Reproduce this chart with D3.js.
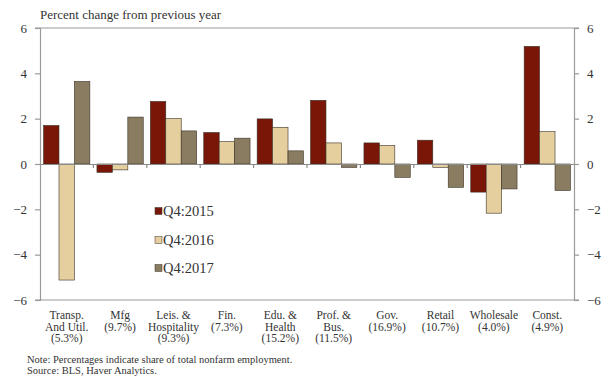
<!DOCTYPE html>
<html>
<head>
<meta charset="utf-8">
<script src="https://cdn.jsdelivr.net/npm/d3@7/dist/d3.min.js"></script>
<style>
  html, body { margin: 0; padding: 0; background: #fff; }
  svg { display: block; font-family: "Liberation Serif", "DejaVu Serif", serif; }
</style>
</head>
<body>
<svg id="chart" width="608" height="391"></svg>
<script>
// Sector labels (each line of a label is a separate entry)
const categories = [
  ["Transp.", "And Util.", "(5.3%)"],
  ["Mfg", "(9.7%)"],
  ["Leis. &", "Hospitality", "(9.3%)"],
  ["Fin.", "(7.3%)"],
  ["Edu. &", "Health", "(15.2%)"],
  ["Prof. &", "Bus.", "(11.5%)"],
  ["Gov.", "(16.9%)"],
  ["Retail", "(10.7%)"],
  ["Wholesale", "(4.0%)"],
  ["Const.", "(4.9%)"]
];
const seriesNames = ["Q4:2015", "Q4:2016", "Q4:2017"];
const q4_2015 = [1.7, -0.37, 2.76, 1.39, 1.99, 2.81, 0.93, 1.05, -1.24, 5.19];
const q4_2016 = [-5.12, -0.26, 2.0, 0.99, 1.62, 0.93, 0.82, -0.15, -2.17, 1.43];
const q4_2017 = [3.64, 2.07, 1.46, 1.14, 0.58, -0.15, -0.59, -1.03, -1.1, -1.17];
const yTicks = [-6, -4, -2, 0, 2, 4, 6];
const colors = ["#7a1608", "#e6cf9f", "#8a7c60"];

const series = [q4_2015, q4_2016, q4_2017];
const svg = d3.select("#chart");
const plotLeft = 40, plotRight = 574, plotTop = 28, plotBottom = 300;

const x = d3.scaleBand().domain(d3.range(categories.length)).range([plotLeft, plotRight]).paddingInner(0).paddingOuter(0);
const xi = d3.scaleBand().domain(d3.range(series.length)).range([0, x.bandwidth()]).paddingOuter(0.23).paddingInner(0);
const y = d3.scaleLinear().domain([-6, 6]).range([plotBottom, plotTop]);

const frame = "#9a9a9a";

// Bars
series.forEach((vals, si) => {
  svg.append("g").selectAll("rect").data(vals).join("rect")
    .attr("x", (d, i) => x(i) + xi(si))
    .attr("width", xi.bandwidth())
    .attr("y", d => y(Math.max(0, d)))
    .attr("height", d => Math.abs(y(d) - y(0)))
    .attr("fill", colors[si])
    .attr("stroke", "#3a3228")
    .attr("stroke-width", 0.6);
});

// Frame (top and bottom lines plus left/right axes)
const leftAxis = d3.axisLeft(y).tickValues(yTicks).tickSize(5).tickPadding(8).tickFormat(d3.format("d"));
const rightAxis = d3.axisRight(y).tickValues(yTicks).tickSize(5).tickPadding(8).tickFormat(d3.format("d"));
const gl = svg.append("g").attr("transform", `translate(${plotLeft},0)`).call(leftAxis);
const gr = svg.append("g").attr("transform", `translate(${plotRight},0)`).call(rightAxis);
[gl, gr].forEach(g => {
  g.select(".domain").attr("stroke", frame).attr("stroke-width", 1.2);
  g.selectAll(".tick line").attr("stroke", frame).attr("stroke-width", 1.2);
  g.selectAll(".tick text").attr("font-size", 13).attr("fill", "#333")
    .attr("font-family", "Liberation Serif, serif");
});
svg.append("line").attr("x1", plotLeft - 5).attr("x2", plotRight + 5).attr("y1", plotTop).attr("y2", plotTop)
  .attr("stroke", frame).attr("stroke-width", 1.2);
svg.append("line").attr("x1", plotLeft - 5).attr("x2", plotRight + 5).attr("y1", plotBottom).attr("y2", plotBottom)
  .attr("stroke", frame).attr("stroke-width", 1.2);

// Zero line with category boundary ticks
const zeroAxis = d3.axisBottom(x).tickValues([]).tickSizeOuter(0);
const gz = svg.append("g").attr("transform", `translate(0,${y(0)})`).call(zeroAxis);
gz.select(".domain").attr("stroke", "#8a8a8a").attr("stroke-width", 1.2);
svg.append("g").selectAll("line").data(d3.range(1, categories.length)).join("line")
  .attr("x1", i => x(i)).attr("x2", i => x(i))
  .attr("y1", y(0)).attr("y2", y(0) + 4)
  .attr("stroke", "#8a8a8a").attr("stroke-width", 1.2);

// Category labels
const catG = svg.append("g").attr("font-size", 11.5).attr("fill", "#333").attr("text-anchor", "middle");
categories.forEach((lines, i) => {
  const t = catG.append("text").attr("x", x(i) + x.bandwidth() / 2).attr("y", 319);
  lines.forEach((ln, k) => {
    t.append("tspan").attr("x", x(i) + x.bandwidth() / 2).attr("dy", k === 0 ? 0 : 11.5).text(ln);
  });
});

// Subtitle
svg.append("text").attr("x", 40).attr("y", 19).attr("font-size", 13).attr("fill", "#333")
  .text("Percent change from previous year");

// Legend
const legY = [211, 240, 268];
seriesNames.forEach((name, i) => {
  svg.append("rect").attr("x", 155).attr("y", legY[i] - 3.5).attr("width", 7).attr("height", 7)
    .attr("fill", colors[i]).attr("stroke", "#3a3228").attr("stroke-width", 0.5);
  svg.append("text").attr("x", 163).attr("y", legY[i] + 5).attr("font-size", 14.5).attr("fill", "#333")
    .text(name);
});

// Notes
svg.append("text").attr("x", 27).attr("y", 363).attr("font-size", 10.5).attr("fill", "#333")
  .text("Note: Percentages indicate share of total nonfarm employment.");
svg.append("text").attr("x", 27).attr("y", 374).attr("font-size", 10.5).attr("fill", "#333")
  .text("Source: BLS, Haver Analytics.");
</script>
</body>
</html>
